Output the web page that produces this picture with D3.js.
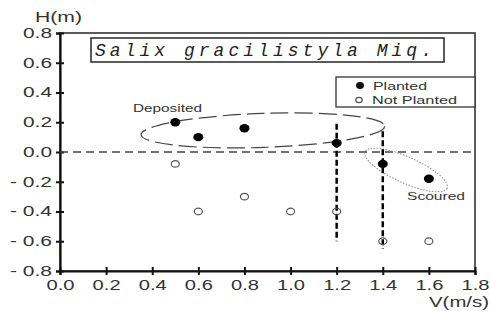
<!DOCTYPE html>
<html>
<head>
<meta charset="utf-8">
<script src="https://cdn.jsdelivr.net/npm/d3@7"></script>
<style>
  body { margin: 0; background: #fff; }
  svg { display: block; }
  .lbl { font-family: "Liberation Sans", Arial, sans-serif; font-size: 14px; fill: #333; }
  .small { font-size: 11px; }
</style>
</head>
<body>
<svg width="490" height="311"></svg>
<script>
// data
const plantedV = [0.5, 0.6, 0.8, 1.2, 1.4, 1.6];
const plantedH = [0.2, 0.1, 0.16, 0.06, -0.08, -0.18];
const notPlantedV = [0.5, 0.6, 0.8, 1.0, 1.2, 1.4, 1.6];
const notPlantedH = [-0.08, -0.4, -0.3, -0.4, -0.4, -0.6, -0.6];
const limitV = [1.2, 1.4];
const limitTop = [0.19, 0.14];
const limitBottom = [-0.6, -0.65];
const xTicks = [0.0, 0.2, 0.4, 0.6, 0.8, 1.0, 1.2, 1.4, 1.6, 1.8];
const yTicks = [0.8, 0.6, 0.4, 0.2, 0.0, -0.2, -0.4, -0.6, -0.8];

var svg = d3.select("svg");

var x = d3.scaleLinear().domain([0, 1.8]).range([60, 475]);
var y = d3.scaleLinear().domain([-0.8, 0.8]).range([271, 33]);

function fmtY(d) {
	if (d < 0) return "- " + Math.abs(d).toFixed(1);
	return d.toFixed(1);
}

// the original lettering is wide, stretch it to the measured width
function stretch(sel, w) {
	sel.attr("textLength", w).attr("lengthAdjust", "spacingAndGlyphs");
}

// frame
svg.append("rect")
	.attr("x", x(0)).attr("y", y(0.8))
	.attr("width", x(1.8) - x(0)).attr("height", y(-0.8) - y(0.8))
	.attr("fill", "none").attr("stroke", "#333").attr("stroke-width", 1.6);

// axes
var xAxis = svg.append("g")
	.attr("transform", "translate(0," + y(-0.8) + ")")
	.call(d3.axisBottom(x).tickValues(xTicks).tickSize(4).tickFormat(d3.format(".1f")));
xAxis.select(".domain").attr("stroke", "#111").attr("stroke-width", 2.2);
xAxis.selectAll(".tick line").attr("y1", -4).attr("y2", 4).attr("stroke", "#111").attr("stroke-width", 2);
xAxis.selectAll(".tick text").attr("class", "lbl").attr("y", 9).attr("dy", "0.71em")
	.call(stretch, 28);

var yAxis = svg.append("g")
	.attr("transform", "translate(" + x(0) + ",0)")
	.call(d3.axisLeft(y).tickValues(yTicks).tickSize(4).tickFormat(fmtY));
yAxis.select(".domain").attr("stroke", "#111").attr("stroke-width", 2.2);
yAxis.selectAll(".tick line").attr("x1", -4).attr("x2", 4).attr("stroke", "#111").attr("stroke-width", 2);
yAxis.selectAll(".tick text").attr("class", "lbl").attr("x", -8)
	.each(function (d) { d3.select(this).call(stretch, d < 0 ? 42 : 29); });
svg.selectAll(".tick text").attr("font-family", null).attr("font-size", null);

// axis titles
svg.append("text").attr("class", "lbl")
	.attr("x", 35).attr("y", 22).text("H(m)").call(stretch, 47);
svg.append("text").attr("class", "lbl")
	.attr("x", 429).attr("y", 307).text("V(m/s)").call(stretch, 60);

// zero line
svg.append("line")
	.attr("x1", x(0)).attr("x2", x(1.8))
	.attr("y1", y(0)).attr("y2", y(0))
	.attr("stroke", "#444").attr("stroke-width", 1.3)
	.attr("stroke-dasharray", "8,5");

// title box
svg.append("rect")
	.attr("x", 91).attr("y", 38).attr("width", 353).attr("height", 24)
	.attr("fill", "#fff").attr("stroke", "#333").attr("stroke-width", 1.6);
svg.append("text")
	.attr("x", 95).attr("y", 56)
	.attr("font-family", "'Liberation Mono', 'DejaVu Sans Mono', monospace")
	.attr("font-style", "italic")
	.attr("font-size", 18)
	.attr("fill", "#222")
	.attr("textLength", 337).attr("lengthAdjust", "spacing")
	.text("Salix gracilistyla Miq.");

// legend
var legend = svg.append("g");
legend.append("rect")
	.attr("x", 336).attr("y", 77).attr("width", x(1.8) - 336).attr("height", 30)
	.attr("fill", "#fff").attr("stroke", "#333").attr("stroke-width", 1.3);
legend.append("ellipse").attr("cx", 360).attr("cy", 85.5).attr("rx", 4).attr("ry", 3.4).attr("fill", "#111");
legend.append("ellipse").attr("cx", 359).attr("cy", 100).attr("rx", 3.2).attr("ry", 2.7)
	.attr("fill", "none").attr("stroke", "#555").attr("stroke-width", 1.2);
legend.append("text").attr("class", "lbl small").attr("x", 373).attr("y", 89.5)
	.text("Planted").call(stretch, 54);
legend.append("text").attr("class", "lbl small").attr("x", 372).attr("y", 104)
	.text("Not Planted").call(stretch, 85);

// deposited ellipse
svg.append("ellipse")
	.attr("cx", x(0.88)).attr("cy", y(0.145))
	.attr("rx", x(1.4) - x(0.88) + 2).attr("ry", 17)
	.attr("transform", "rotate(-2," + x(0.88) + "," + y(0.145) + ")")
	.attr("fill", "none").attr("stroke", "#444").attr("stroke-width", 1.2)
	.attr("stroke-dasharray", "18,6");

// scoured ellipse
svg.append("ellipse")
	.attr("cx", 406).attr("cy", 170)
	.attr("rx", 45).attr("ry", 13)
	.attr("transform", "rotate(24,406,170)")
	.attr("fill", "none").attr("stroke", "#888").attr("stroke-width", 1)
	.attr("stroke-dasharray", "1.5,1.5");

svg.append("text").attr("class", "lbl small")
	.attr("x", 133).attr("y", 112).text("Deposited").call(stretch, 69);
svg.append("text").attr("class", "lbl small")
	.attr("x", 407).attr("y", 200).text("Scoured").call(stretch, 58);

// vertical limit lines
svg.selectAll(".limit")
	.data(limitV)
	.enter().append("line")
	.attr("class", "limit")
	.attr("x1", function (d) { return x(d); })
	.attr("x2", function (d) { return x(d); })
	.attr("y1", function (d, i) { return y(limitTop[i]); })
	.attr("y2", function (d, i) { return y(limitBottom[i]); })
	.attr("stroke", "#000").attr("stroke-width", 2.5)
	.attr("stroke-dasharray", "6,3");

// not planted points
svg.selectAll(".np")
	.data(notPlantedV)
	.enter().append("ellipse")
	.attr("class", "np")
	.attr("cx", function (d) { return x(d); })
	.attr("cy", function (d, i) { return y(notPlantedH[i]); })
	.attr("rx", 4).attr("ry", 3.3)
	.attr("fill", "none").attr("stroke", "#555").attr("stroke-width", 1.2);

// planted points
svg.selectAll(".pl")
	.data(plantedV)
	.enter().append("ellipse")
	.attr("class", "pl")
	.attr("cx", function (d) { return x(d); })
	.attr("cy", function (d, i) { return y(plantedH[i]); })
	.attr("rx", 5).attr("ry", 4.2)
	.attr("fill", "#000");
</script>
</body>
</html>
